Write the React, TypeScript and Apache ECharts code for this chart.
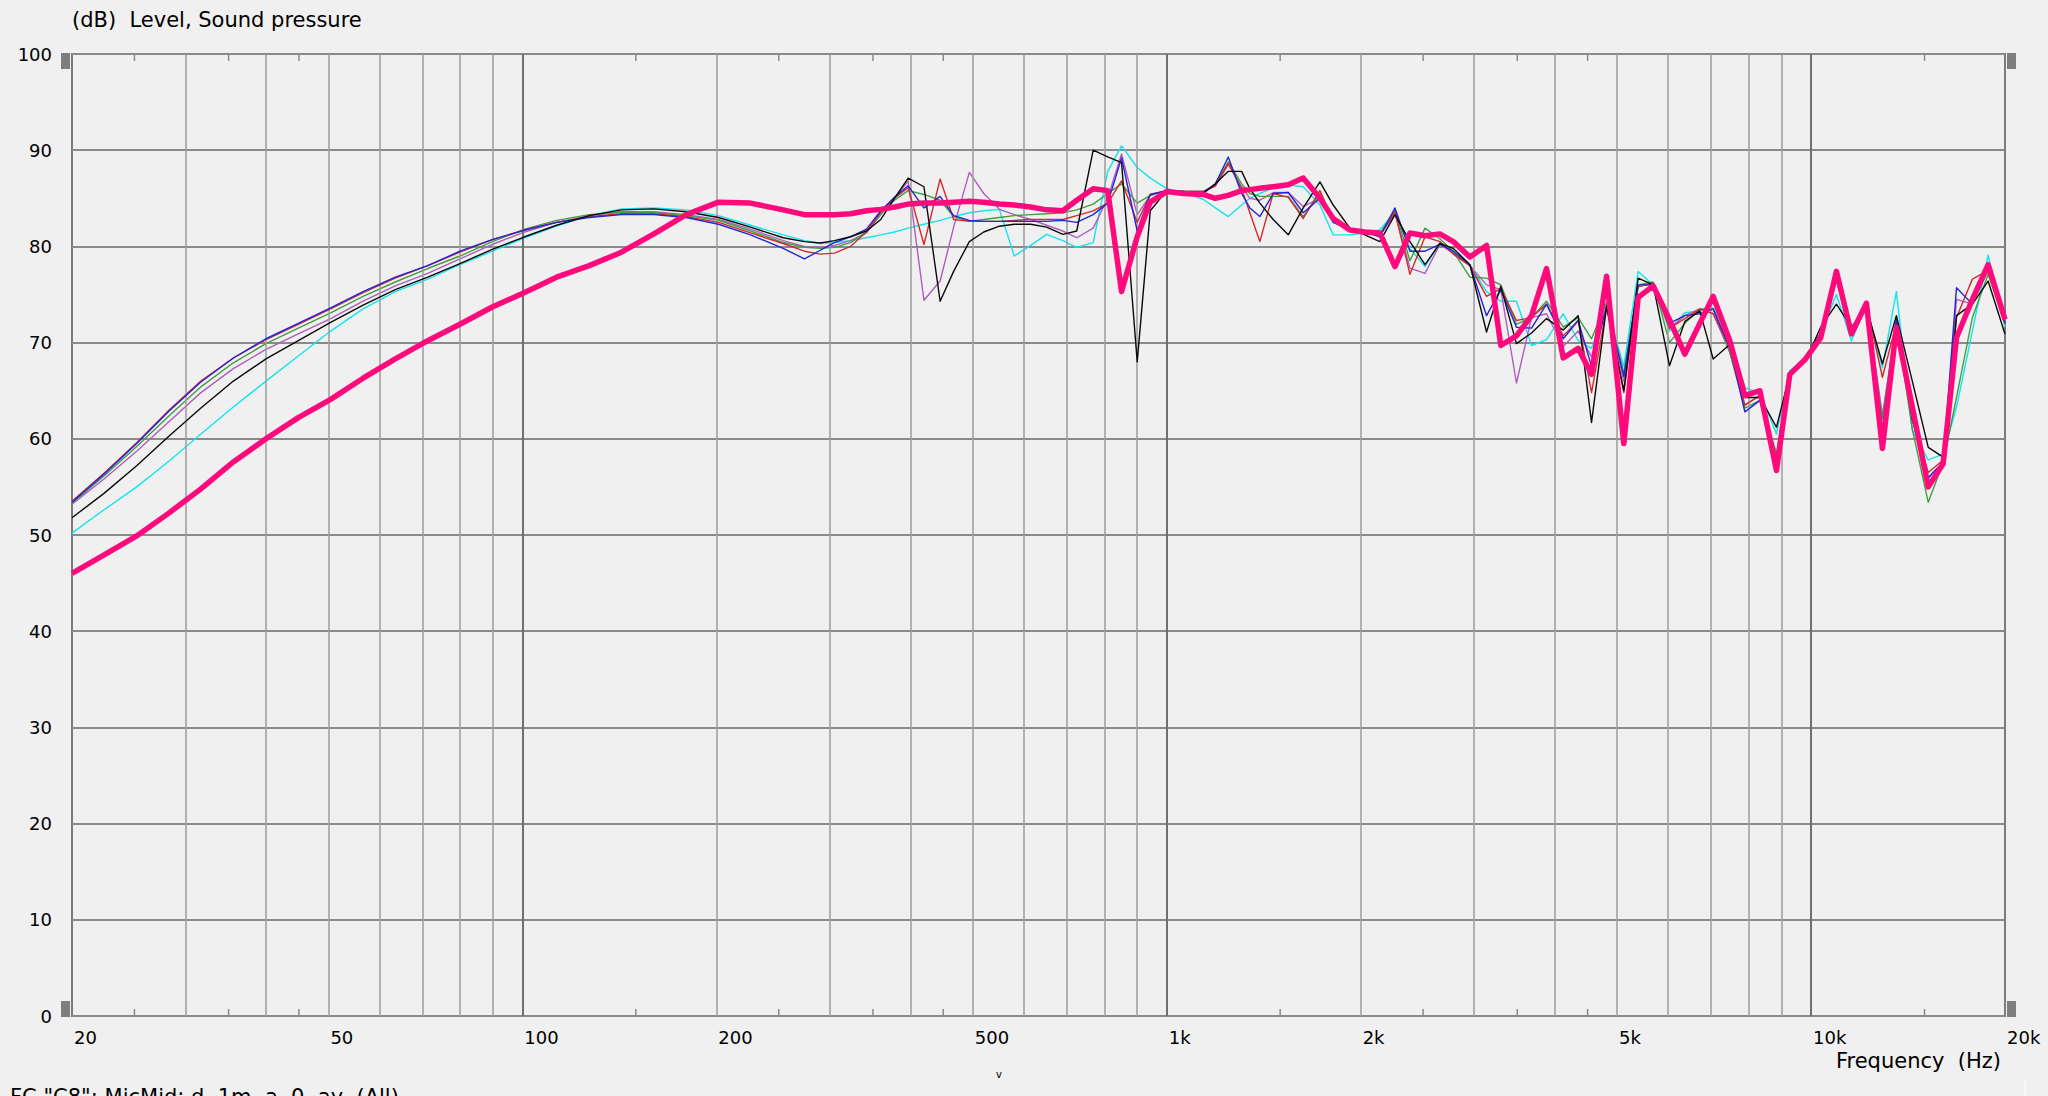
import React, { useEffect, useRef } from 'react';
import * as echarts from 'echarts';

const FREQ = [
  20, 22.4, 25.2, 28.3, 31.7, 35.6, 40, 44.9, 50.4, 56.6,
  63.5, 71.3, 80, 89.8, 100.8, 113, 127, 142.5, 160, 179.6,
  201.6, 226, 254, 274, 290, 305, 323, 342, 360, 378,
  397, 420, 445, 467, 494, 520, 550, 580, 615, 651,
  690, 725, 769, 810, 851, 900, 943, 1000, 1061, 1139,
  1190, 1246, 1307, 1346, 1395, 1463, 1544, 1629, 1729, 1813,
  1924, 2030, 2142, 2261, 2385, 2517, 2654, 2784, 2955, 3136,
  3300, 3490, 3683, 3886, 4125, 4351, 4564, 4816, 5122, 5391,
  5689, 6030, 6370, 6720, 7049, 7480, 7894, 8330, 8838, 9270,
  9807, 10350, 10950, 11552, 12190, 12906, 13566, 14360, 15202, 16034,
  16818, 17800, 18830, 20000,
];

const PINK = [
  46.0, 47.9, 49.9, 52.3, 54.8, 57.6, 60.0, 62.2, 64.1, 66.3,
  68.3, 70.2, 71.9, 73.7, 75.2, 76.8, 78.0, 79.4, 81.3, 83.3,
  84.6, 84.5, 83.8, 83.3, 83.3, 83.3, 83.4, 83.7, 83.85, 84.1,
  84.4, 84.5, 84.5, 84.6, 84.7, 84.6, 84.4, 84.3, 84.1, 83.8,
  83.7, 84.8, 86.0, 85.8, 75.3, 81.0, 84.6, 85.7, 85.5, 85.4,
  85.0, 85.3, 85.8, 85.9, 86.05, 86.2, 86.4, 87.1, 85.0, 82.9,
  81.7, 81.5, 81.4, 77.9, 81.4, 81.1, 81.3, 80.5, 78.9, 80.1,
  69.7, 70.7, 72.8, 77.7, 68.4, 69.4, 66.7, 76.9, 59.5, 74.7,
  75.9, 72.4, 68.8, 72.0, 74.8, 70.2, 64.5, 65.0, 56.7, 66.7,
  68.3, 70.5, 77.4, 70.9, 74.1, 59.0, 71.6, 63.3, 55.0, 57.4,
  70.5, 74.5, 78.1, 72.4,
];

const BLUE = [
  53.4, 56.3, 59.5, 62.9, 65.9, 68.4, 70.4, 72.0, 73.6, 75.3,
  76.8, 78.0, 79.5, 80.7, 81.7, 82.5, 83.0, 83.3, 83.3, 83.0,
  82.3, 81.2, 79.8, 78.7, 79.6, 80.4, 81.0, 81.8, 83.7, 85.1,
  86.3, 84.0, 85.2, 83.2, 82.7, 82.6, 82.6, 82.6, 82.6, 82.6,
  82.7, 82.5, 83.3, 84.5, 89.2, 81.6, 85.4, 85.8, 85.6, 85.6,
  86.5, 89.3, 85.5, 84.0, 83.1, 85.5, 85.6, 83.5, 85.0, 82.5,
  81.7, 81.5, 81.0, 84.0, 79.5, 79.5, 80.2, 79.5, 78.1, 72.8,
  75.5, 71.6, 71.5, 74.0, 70.4, 72.3, 67.5, 73.8, 66.5, 76.0,
  76.0, 72.0, 72.8, 73.0, 73.5, 69.5, 62.8, 64.0, 57.5, 66.8,
  68.3, 71.0, 76.5, 71.0, 73.8, 61.0, 72.5, 62.0, 55.9, 57.6,
  75.7, 74.0, 78.1, 72.0,
];

const RED = [
  53.5, 56.4, 59.6, 63.0, 66.0, 68.4, 70.3, 71.9, 73.5, 75.2,
  76.7, 78.0, 79.4, 80.7, 81.7, 82.5, 83.1, 83.4, 83.4, 83.1,
  82.5, 81.4, 80.3, 79.5, 79.2, 79.3, 80.0, 81.5, 83.6, 85.0,
  86.1, 80.2, 87.0, 82.8, 82.6, 82.6, 82.6, 82.7, 82.8, 82.8,
  82.8, 83.2, 83.7, 84.5, 86.8, 82.5, 85.4, 85.8, 85.7, 85.7,
  86.3, 88.65, 86.0, 83.5, 80.5, 85.5, 85.1, 82.9, 85.8, 82.7,
  81.6, 81.4, 81.2, 83.6, 77.1, 81.0, 80.5, 79.2, 78.0, 74.8,
  75.6, 72.3, 72.6, 74.0, 70.7, 72.3, 64.8, 73.6, 64.8, 75.8,
  76.2, 71.5, 72.5, 73.5, 73.0, 69.5, 63.5, 64.5, 58.0, 66.8,
  68.3, 71.0, 76.8, 71.0, 74.0, 66.4, 72.0, 62.0, 56.5, 57.8,
  72.6, 76.6, 77.5, 72.0,
];

const GREEN = [
  53.3, 56.1, 59.2, 62.4, 65.4, 67.9, 69.9, 71.5, 73.1, 74.8,
  76.3, 77.7, 79.0, 80.5, 81.8, 82.7, 83.3, 83.55, 83.5, 83.2,
  82.7, 81.6, 80.4, 79.9, 79.8, 79.9, 80.4, 81.5, 83.4, 84.8,
  85.8, 85.4, 84.8, 83.1, 82.6, 82.8, 83.0, 83.2, 83.3, 83.4,
  83.5, 83.8, 84.4, 85.5, 86.5, 84.5, 85.3, 85.8, 85.7, 85.7,
  86.4, 88.8, 86.5, 85.5, 85.2, 85.2, 85.2, 83.1, 85.5, 82.8,
  81.6, 81.5, 81.3, 83.8, 78.5, 81.9, 80.8, 79.5, 76.8, 76.7,
  76.0, 71.9, 72.6, 74.3, 71.6, 72.6, 70.4, 74.2, 66.8, 76.0,
  76.3, 70.0, 72.0, 73.5, 73.5, 69.0, 63.2, 64.0, 58.5, 66.5,
  68.3, 71.0, 76.5, 71.0, 74.0, 62.0, 72.0, 61.0, 53.4, 57.5,
  64.3, 72.6, 77.1, 72.0,
];

const PURPLE = [
  53.2, 55.8, 58.7, 61.8, 64.8, 67.3, 69.3, 70.9, 72.5, 74.3,
  75.9, 77.2, 78.7, 80.2, 81.5, 82.5, 83.2, 83.6, 83.6, 83.3,
  82.8, 81.8, 80.6, 80.0, 79.9, 80.1, 80.6, 81.4, 83.3, 85.0,
  86.8, 74.4, 76.4, 82.0, 87.7, 85.5, 83.85, 83.3, 82.8, 82.2,
  81.6, 80.9, 81.9, 85.0, 89.6, 83.3, 85.3, 85.8, 85.7, 85.7,
  86.3, 88.5, 86.2, 85.0, 84.8, 85.6, 85.6, 84.15, 85.0, 82.6,
  81.7, 81.5, 81.1, 83.4, 77.75, 77.2, 80.2, 79.3, 78.0, 76.0,
  75.5, 65.8, 72.6, 73.0, 69.6, 71.2, 68.5, 73.6, 66.0, 76.0,
  76.0, 71.5, 72.8, 73.5, 73.0, 69.0, 63.5, 64.5, 57.5, 66.8,
  68.3, 71.0, 76.5, 71.0, 74.0, 62.5, 72.0, 62.0, 56.0, 57.6,
  74.5, 74.0, 77.5, 72.0,
];

const BLACK = [
  51.8, 54.3, 57.2, 60.3, 63.2, 66.0, 68.3, 70.2, 72.1, 73.9,
  75.5, 76.8, 78.2, 79.7, 81.0, 82.2, 83.2, 83.8, 83.9, 83.6,
  83.0, 82.0, 80.9, 80.5, 80.35, 80.6, 81.0, 81.6, 82.8, 85.0,
  87.1, 86.2, 74.3, 77.4, 80.5, 81.5, 82.1, 82.3, 82.3, 82.0,
  81.25, 81.6, 90.0, 89.3, 88.7, 68.0, 83.7, 85.8, 85.7, 85.5,
  86.5, 87.8, 87.8, 86.0, 84.5, 82.8, 81.2, 84.0, 86.7, 84.3,
  81.9, 81.2, 80.5, 83.3, 80.5, 78.1, 80.3, 79.8, 78.1, 71.1,
  75.85, 69.9, 71.0, 72.5, 71.3, 72.8, 61.7, 73.8, 65.0, 76.7,
  76.0, 67.6, 72.2, 73.3, 68.3, 69.8, 64.3, 64.3, 61.2, 66.7,
  68.1, 71.6, 74.0, 71.6, 73.6, 67.8, 72.8, 66.0, 59.1, 58.1,
  72.8, 74.0, 76.4, 70.9,
];

const CYAN = [
  50.2, 52.6, 55.0, 57.7, 60.5, 63.3, 66.0, 68.6, 71.2, 73.5,
  75.3, 76.6, 78.1, 79.5, 80.9, 82.1, 83.2, 83.9, 84.0, 83.8,
  83.2, 82.2, 81.2, 80.6, 80.3, 80.4, 80.6, 80.9, 81.2, 81.5,
  81.9, 82.3, 82.7, 83.1, 83.5, 83.7, 83.85, 79.0, 80.1, 81.25,
  80.6, 79.9, 80.4, 87.8, 90.45, 88.2, 87.1, 86.0, 85.6, 84.9,
  84.0, 83.1, 84.3, 85.0, 85.5, 86.1, 86.4, 86.2, 84.3, 81.2,
  81.2, 81.4, 81.7, 83.6, 79.8, 77.9, 80.4, 79.5, 78.1, 75.3,
  74.3, 74.3, 69.7, 70.3, 73.0, 70.2, 69.4, 73.8, 67.5, 77.4,
  76.0, 71.2, 73.1, 73.3, 73.6, 70.5, 65.3, 64.8, 60.5, 67.1,
  68.3, 71.0, 75.0, 70.2, 73.8, 67.4, 75.3, 60.9, 57.8, 58.4,
  63.3, 71.2, 79.1, 71.6,
];

const X_GRID = [30, 40, 50, 60, 70, 80, 90, 200, 300, 400, 500, 600, 700, 800, 900,
  2000, 3000, 4000, 5000, 6000, 7000, 8000, 9000];
const X_MAJOR = [100, 1000, 10000];
const X_TICK_VALUES = [20, 50, 100, 200, 500, 1000, 2000, 5000, 10000, 20000];
const X_TICK_TEXT = ['20', '50', '100', '200', '500', '1k', '2k', '5k', '10k', '20k'];
const MINOR_TICKS = [25, 35, 45, 150, 250, 350, 450, 1500, 2500, 3500, 4500, 15000];

const FONT_FAMILY = '"DejaVu Sans", Verdana, sans-serif';
const FONT = '21px ' + FONT_FAMILY;
const NUM_FONT = '18px ' + FONT_FAMILY;

const SERIES_DEFS = [
  { name: 'cyan', data: CYAN, color: '#12e4f0', width: 1.4 },
  { name: 'purple', data: PURPLE, color: '#b05cc0', width: 1.4 },
  { name: 'green', data: GREEN, color: '#3f9f3f', width: 1.4 },
  { name: 'red', data: RED, color: '#d42a2a', width: 1.4 },
  { name: 'blue', data: BLUE, color: '#2424d8', width: 1.4 },
  { name: 'black', data: BLACK, color: '#0a0a0a', width: 1.4 },
  { name: 'pink', data: PINK, color: '#ff0a7c', width: 5.5 },
];

export default function App() {
  const ref = useRef<HTMLDivElement>(null);

  useEffect(() => {
    document.body.style.margin = '0';
    document.body.style.background = '#f0f0f0';
    const chart = echarts.init(ref.current as HTMLDivElement, null, { renderer: 'svg' });

    const series: any[] = [
      {
        type: 'line',
        name: 'gridlines',
        data: [],
        silent: true,
        z: 1,
        markLine: {
          silent: true,
          symbol: ['none', 'none'],
          animation: false,
          label: { show: false },
          lineStyle: { color: '#9c9c9c', width: 1.5, type: 'solid' },
          emphasis: { disabled: true },
          data: [
            ...X_GRID.map((f) => ({ xAxis: f })),
            ...X_MAJOR.map((f) => ({ xAxis: f, lineStyle: { color: '#707070', width: 2, type: 'solid' } })),
          ],
        },
      },
      ...SERIES_DEFS.map((s, idx) => ({
        type: 'line',
        name: s.name,
        data: FREQ.map((f, i) => [f, s.data[i]]),
        showSymbol: false,
        symbol: 'none',
        z: 2 + idx,
        lineStyle: { color: s.color, width: s.width, join: 'round' },
        itemStyle: { color: s.color },
        emphasis: { disabled: true },
      })),
    ];

    chart.setOption({
      animation: false,
      backgroundColor: '#f0f0f0',
      grid: {
        left: 72, right: 43, top: 54, bottom: 80,
        show: true, borderColor: '#7c7c7c', borderWidth: 2, backgroundColor: 'transparent',
      },
      xAxis: {
        type: 'log', logBase: 10, min: 20, max: 20000,
        axisLabel: { show: false }, axisTick: { show: false },
        axisLine: { show: false }, splitLine: { show: false },
      },
      yAxis: {
        type: 'value', min: 0, max: 100, interval: 10,
        axisLabel: { color: '#000', fontSize: 18, fontFamily: FONT_FAMILY, margin: 20 },
        axisLine: { show: false }, axisTick: { show: false },
        splitLine: { lineStyle: { color: '#8a8a8a', width: 2 } },
      },
      series,
    });

    const px = (f: number, v: number) => chart.convertToPixel({ gridIndex: 0 }, [f, v]) as number[];
    const top = px(20, 100)[1];
    const bottom = px(20, 0)[1];
    const left = px(20, 0)[0];
    const right = px(20000, 0)[0];

    const g: any[] = [];
    g.push({
      type: 'text', x: left, y: 20,
      style: { text: '(dB)  Level, Sound pressure', font: FONT, fill: '#000', align: 'left', verticalAlign: 'middle', textAlign: 'left', textVerticalAlign: 'middle' },
    });
    X_TICK_VALUES.forEach((f, i) => {
      const x = px(f, 0)[0];
      g.push({
        type: 'text', x: x + 2, y: bottom + 21,
        style: { text: X_TICK_TEXT[i], font: NUM_FONT, fill: '#000', align: 'left', verticalAlign: 'middle', textAlign: 'left', textVerticalAlign: 'middle' },
      });
    });
    MINOR_TICKS.forEach((f) => {
      const x = px(f, 0)[0];
      g.push({ type: 'line', shape: { x1: x, y1: bottom, x2: x, y2: bottom - 7 }, style: { stroke: '#8a8a8a', lineWidth: 1.5 } });
      g.push({ type: 'line', shape: { x1: x, y1: top, x2: x, y2: top + 7 }, style: { stroke: '#8a8a8a', lineWidth: 1.5 } });
    });
    g.push({
      type: 'text', x: right - 4, y: bottom + 45,
      style: { text: 'Frequency  (Hz)', font: FONT, fill: '#000', align: 'right', verticalAlign: 'middle', textAlign: 'right', textVerticalAlign: 'middle' },
    });
    [[left - 11, top - 1], [left - 11, bottom - 15], [right + 2, top - 1], [right + 2, bottom - 15]].forEach(([x, y]) => {
      g.push({ type: 'rect', shape: { x, y, width: 9, height: 16 }, style: { fill: '#7e7e7e' } });
    });
    g.push({
      type: 'text', x: 10, y: 1086,
      style: { text: 'FC "C8": MicMid; d, 1m, a, 0, ay, (All)', font: FONT, fill: '#000', align: 'left', verticalAlign: 'top', textAlign: 'left', textVerticalAlign: 'top' },
    });
    g.push({
      type: 'text', x: 999, y: 1074,
      style: { text: 'v', font: '10px ' + FONT_FAMILY, fill: '#000', align: 'center', verticalAlign: 'middle', textAlign: 'center', textVerticalAlign: 'middle' },
    });
    g.push({ type: 'line', shape: { x1: 2025, y1: 1080, x2: 2025, y2: 1096 }, style: { stroke: '#ffffff', lineWidth: 1 } });

    chart.setOption({ graphic: g });

    return () => chart.dispose();
  }, []);

  return <div ref={ref} style={{ width: 2048, height: 1096, background: '#f0f0f0' }} />;
}
